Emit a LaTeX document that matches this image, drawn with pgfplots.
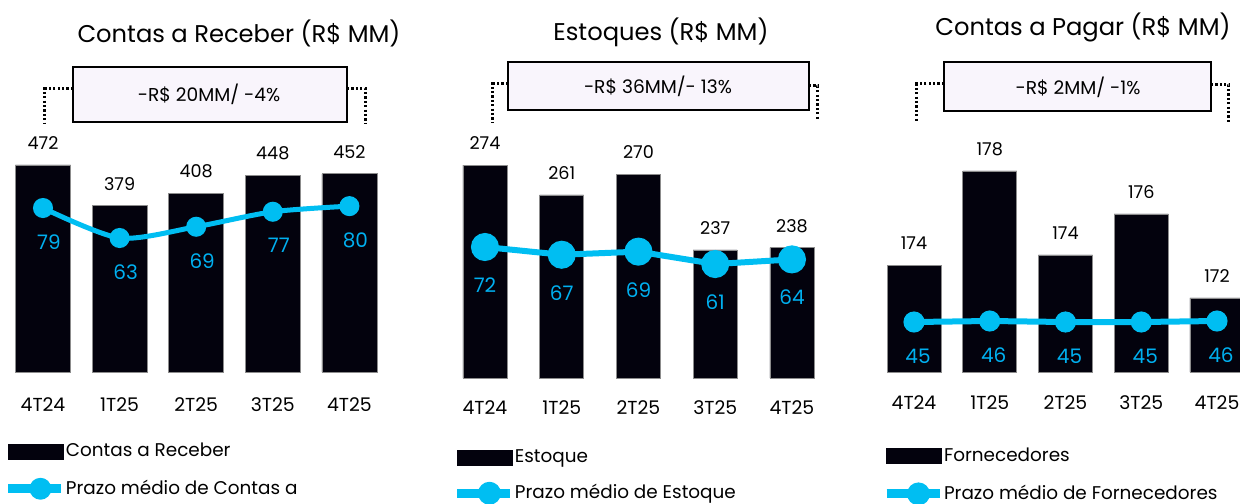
\documentclass[border=0pt]{standalone}
\usepackage{pgfplots}
\pgfplotsset{compat=1.18}
\usepackage{fontspec}
\setmainfont{Poppins}

\definecolor{barc}{HTML}{03020D}
\definecolor{linec}{HTML}{00BEF2}
\definecolor{labc}{HTML}{00B0F0}
\definecolor{boxc}{HTML}{F9F5FC}

\newcommand{\ticksize}{\fontsize{9.4bp}{11bp}\selectfont}
\newcommand{\boxsize}{\fontsize{9.3bp}{11bp}\selectfont}
\newcommand{\barlabsize}{\fontsize{8.8bp}{10bp}\selectfont}
\newcommand{\linelabsize}{\fontsize{10bp}{12bp}\selectfont}
\newcommand{\legsize}{\fontsize{9.2bp}{11bp}\selectfont}
\newcommand{\titlesize}{\fontsize{12.1bp}{14bp}\selectfont}

\pgfplotsset{
  panel/.style={
    scale only axis, anchor=south west,
    xmin=-0.5, xmax=4.5,
    axis line style={draw=none},
    major tick length=0pt, ytick=\empty,
    /pgf/number format/assume math mode=true,
    /pgf/number format/fixed,
    /pgf/number format/precision=0,
  },
  barpanel/.style={
    panel, ybar,
    xtick={0,1,2,3,4},
    xticklabels={4T24,1T25,2T25,3T25,4T25},
    xticklabel style={font=\ticksize, anchor=center},
    nodes near coords,
    every node near coord/.append style={font=\barlabsize, text=black,
      anchor=center, yshift=11bp},
  },
  linepanel/.style={
    panel, hide axis,
    legend cell align=left,
    legend style={draw=none, fill=none, inner sep=0pt, outer sep=0pt,
      anchor=north west, font=\legsize, row sep=9bp,
      nodes={inner sep=0pt, text=black},
      /tikz/every even column/.append style={column sep=-1bp}},
  },
  barplot/.style={fill=barc, draw=black!45, line width=0.3bp},
  barkey/.style={legend image code/.code={
      \fill[barc] (0bp,-3.75bp) rectangle (27.5bp,3.75bp);}},
  linekey/.style={legend image code/.code={
      \draw[linec, line width=4.5bp] (0bp,0bp) -- (26.5bp,0bp);
      \fill[linec] (16bp,0bp) circle (4.2bp);}},
}

\begin{document}
\begin{tikzpicture}
\useasboundingbox (0bp,0bp) rectangle (620bp,-252bp);

% ---------------- Contas a Receber ----------------
\begin{axis}[barpanel, at={(2.35bp,-186bp)}, width=191.5bp, height=136bp,
  ymin=0, ymax=620.2, bar width=0.72,
  xticklabel style={yshift=-16.5bp}]
  \addplot[barplot] coordinates {(0,472) (1,379) (2,408) (3,448) (4,452)};
\end{axis}
\begin{axis}[linepanel, at={(2.35bp,-186bp)}, width=191.5bp, height=136bp,
  ymin=-8.47, ymax=136.6,
  legend style={at={(axis description cs:-0.002,-0.262)}}]
  \addlegendimage{barkey}
  \addlegendentry{Contas a Receber}
  \addplot[linec, line width=2.5bp, smooth, tension=0.45, mark=*,
    mark size=3.75bp, mark options={fill=linec, draw=linec}, linekey,
    nodes near coords,
    every node near coord/.append style={font=\linelabsize, text=labc,
      anchor=center, yshift=-17bp, xshift=3bp}]
    coordinates {(0,79) (1,63) (2,69) (3,77) (4,80)};
  \addlegendentry{Prazo médio de Contas a}
\end{axis}

% ---------------- Estoques ----------------
\begin{axis}[barpanel, at={(223.3bp,-189bp)}, width=191.875bp, height=139bp,
  ymin=181.27, ymax=302.3, bar width=0.573,
  xticklabel style={yshift=-15bp}]
  \addplot[barplot] coordinates {(0,274) (1,261) (2,270) (3,237) (4,238)};
\end{axis}
\begin{axis}[linepanel, at={(223.3bp,-189bp)}, width=191.875bp, height=139bp,
  ymin=-12.52, ymax=166.83,
  legend style={at={(axis description cs:0.0165,-0.259)}, row sep=8bp}]
  \addlegendimage{barkey}
  \addlegendentry{Estoque}
  \addplot[linec, line width=3bp, mark=*,
    mark size=5.5bp, mark options={fill=linec, draw=linec}, linekey,
    nodes near coords,
    every node near coord/.append style={font=\linelabsize, text=labc,
      anchor=center, yshift=-19bp}]
    coordinates {(0,72) (1,67) (2,69) (3,61) (4,64)};
  \addlegendentry{Prazo médio de Estoque}
\end{axis}

% ---------------- Contas a Pagar ----------------
\begin{axis}[barpanel, at={(438.06bp,-186bp)}, width=189.375bp, height=136bp,
  ymin=168.65, ymax=181.3, bar width=0.713,
  xticklabel style={yshift=-15.5bp}]
  \addplot[barplot] coordinates {(0,173.6) (1,178.0) (2,174.1) (3,176.0) (4,172.1)};
\end{axis}
\begin{axis}[linepanel, at={(438.06bp,-186bp)}, width=189.375bp, height=136bp,
  ymin=-5, ymax=267,
  legend style={at={(axis description cs:0.0155,-0.279)}}]
  \addlegendimage{barkey}
  \addlegendentry{Fornecedores}
  \addplot[linec, line width=3bp, mark=*,
    mark size=3.75bp, mark options={fill=linec, draw=linec}, linekey,
    nodes near coords,
    every node near coord/.append style={font=\linelabsize, text=labc,
      anchor=center, yshift=-17bp, xshift=2bp}]
    coordinates {(0,45) (1,46) (2,45) (3,45) (4,46)};
  \addlegendentry{Prazo médio de Fornecedores}
\end{axis}

% ---------------- titles, variation boxes and brackets ----------------
\begin{scope}[x=0.5bp, y=-0.5bp]
  \node[font=\titlesize] at (239,33) {Contas a Receber (R\$ MM)};
  \node[font=\titlesize] at (661,32) {Estoques (R\$ MM)};
  \node[font=\titlesize] at (1083,27) {Contas a Pagar (R\$ MM)};

  \begin{scope}[line width=1.5bp, dash pattern=on 1.1bp off 1.1bp]
    \draw (73,89) -- (45,89) -- (45,123);
    \draw (347,89) -- (366,89) -- (366,123);
    \draw (508,84) -- (493,84) -- (493,123);
    \draw (809,86) -- (818,86) -- (818,121);
    \draw (944,84) -- (917,84) -- (917,123);
    \draw (1211,85) -- (1229,85) -- (1229,123);
  \end{scope}

  \filldraw[fill=boxc, draw=black, line width=1bp] (73,67) rectangle (347,122);
  \filldraw[fill=boxc, draw=black, line width=1bp] (508,62) rectangle (809,110);
  \filldraw[fill=boxc, draw=black, line width=1bp] (944,62) rectangle (1211,111);

  \node[font=\boxsize] at (209,94) {-R\$ 20MM/ -4\%};
  \node[font=\boxsize] at (658,86) {-R\$ 36MM/- 13\%};
  \node[font=\boxsize] at (1078,87) {-R\$ 2MM/ -1\%};
\end{scope}
\end{tikzpicture}
\end{document}
